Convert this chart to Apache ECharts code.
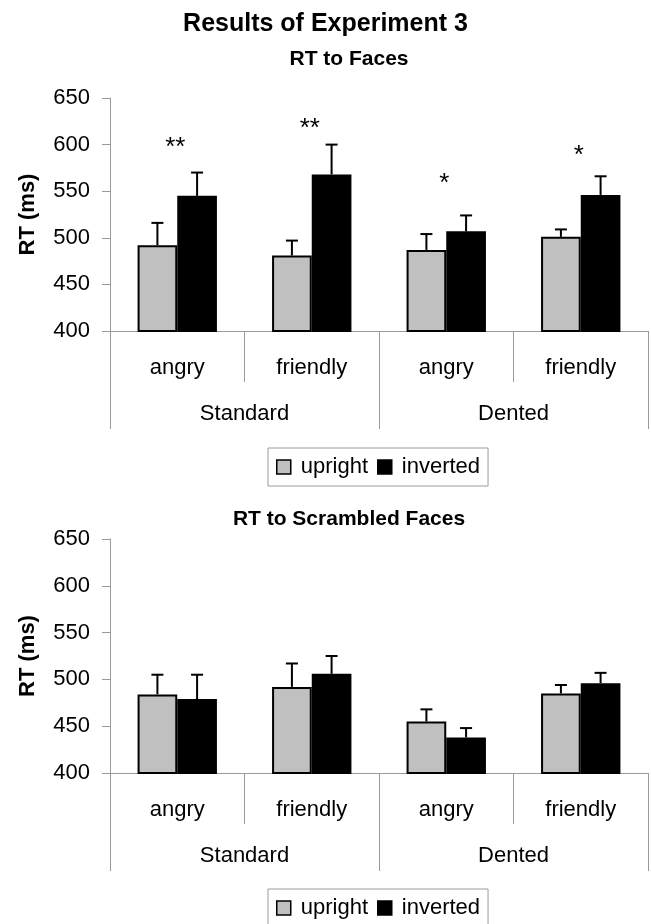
<!DOCTYPE html>
<html>
<head>
<meta charset="utf-8">
<script src="https://cdn.jsdelivr.net/npm/echarts@6/dist/echarts.min.js"></script>
<style>html,body{margin:0;padding:0;background:#fff}#c{width:651px;height:924px}</style>
</head>
<body>
<div id="c"></div>
<script>
// ---- data ----
var subCategories = ['angry', 'friendly', 'angry', 'friendly'];
var groupCategories = ['Standard', 'Dented'];
var yTicks = [400, 450, 500, 550, 600, 650];

var facesUpright = [492, 481, 487, 501];
var facesUprightSE = [24, 16, 17, 8];
var facesInverted = [545, 568, 507, 546];
var facesInvertedSE = [25, 32, 17, 20];
var facesSig = ['**', '**', '*', '*'];
var facesSigAt = [603, 623, 564, 594];

var scrUpright = [484, 492, 455, 485];
var scrUprightSE = [21, 25, 13, 9];
var scrInverted = [479, 506, 438, 496];
var scrInvertedSE = [26, 19, 10, 11];

// ---- chart ----
var FONT = "'Liberation Sans', Arial, Helvetica, sans-serif";
var AXIS_GRAY = '#9a9a9a';
var GAP = 0.41;

function yAxis(gridIndex) {
  return {
    type: 'value', gridIndex: gridIndex,
    min: yTicks[0], max: yTicks[yTicks.length - 1], interval: yTicks[1] - yTicks[0],
    name: 'RT (ms)', nameLocation: 'middle', nameRotate: 90, nameGap: 71,
    nameTextStyle: { fontFamily: FONT, fontSize: 22, fontWeight: 'bold', color: '#000' },
    axisLine: { show: true, lineStyle: { color: AXIS_GRAY, width: 1 } },
    axisTick: { show: true, length: 8, lineStyle: { color: AXIS_GRAY } },
    axisLabel: { margin: 20, fontFamily: FONT, fontSize: 22, color: '#000' },
    splitLine: { show: false }
  };
}
function subAxis(gridIndex) {
  return {
    type: 'category', gridIndex: gridIndex, position: 'bottom', data: subCategories,
    axisLine: { show: true, lineStyle: { color: AXIS_GRAY, width: 1 } },
    axisTick: { show: true, length: 51, interval: 0, lineStyle: { color: AXIS_GRAY } },
    axisLabel: { interval: 0, margin: 26, fontFamily: FONT, fontSize: 22, color: '#000' }
  };
}
function groupAxis(gridIndex) {
  return {
    type: 'category', gridIndex: gridIndex, position: 'bottom', data: groupCategories,
    axisLine: { show: false },
    axisTick: { show: true, length: 98, interval: 0, lineStyle: { color: AXIS_GRAY } },
    axisLabel: { interval: 0, margin: 72, fontFamily: FONT, fontSize: 22, color: '#000' }
  };
}
function bar(name, values, xi, yi, fill) {
  return {
    type: 'bar', name: name, xAxisIndex: xi, yAxisIndex: yi, data: values,
    barGap: '0%', barCategoryGap: (GAP * 100) + '%', silent: true,
    itemStyle: { color: fill, borderColor: '#000', borderWidth: 2 },
    emphasis: { disabled: true }, z: 2
  };
}
function errSeries(values, se, side, xi, yi) {
  var data = values.map(function (v, i) { return [i, v, v + se[i]]; });
  return {
    type: 'custom', xAxisIndex: xi, yAxisIndex: yi, data: data, silent: true, z: 3,
    renderItem: function (params, api) {
      var base = api.coord([api.value(0), api.value(1)]);
      var top = api.coord([api.value(0), api.value(2)]);
      var bw = api.size([1, 0])[0] * (1 - GAP) / 2;
      var x = base[0] + side * bw / 2;
      var cap = 6;
      return {
        type: 'group', children: [
          { type: 'line', shape: { x1: x, y1: base[1], x2: x, y2: top[1] }, style: { stroke: '#000', lineWidth: 2 } },
          { type: 'line', shape: { x1: x - cap, y1: top[1], x2: x + cap, y2: top[1] }, style: { stroke: '#000', lineWidth: 2 } }
        ]
      };
    }
  };
}
function sigSeries(labels, at, xi, yi) {
  var data = at.map(function (v, i) { return [i, v]; });
  return {
    type: 'custom', xAxisIndex: xi, yAxisIndex: yi, data: data, silent: true, z: 4,
    renderItem: function (params, api) {
      var p = api.coord([api.value(0), api.value(1)]);
      return {
        type: 'text',
        style: { x: p[0] - 2, y: p[1] + 6, text: labels[params.dataIndex], align: 'center', verticalAlign: 'middle',
                 fontFamily: FONT, fontSize: 26, fill: '#000' }
      };
    }
  };
}
function legend(top) {
  return {
    left: 268, top: top, orient: 'horizontal',
    data: [
      { name: 'upright', icon: 'rect', itemStyle: { color: '#c0c0c0', borderColor: '#000', borderWidth: 1.5 } },
      { name: 'inverted', icon: 'rect', itemStyle: { color: '#000', borderColor: '#000', borderWidth: 1.5 } }
    ],
    itemWidth: 14, itemHeight: 14, itemGap: 9,
    padding: [8, 8, 8, 8],
    borderColor: AXIS_GRAY, borderWidth: 1,
    selectedMode: false,
    textStyle: { fontFamily: FONT, fontSize: 22, color: '#000', padding: [0, 0, 0, 5] }
  };
}

var chart = echarts.init(document.getElementById('c'), null, { renderer: 'canvas' });
chart.setOption({
  backgroundColor: '#fff',
  animation: false,
  title: [
    { text: 'Results of Experiment 3', left: 325.5, top: 11.5, textAlign: 'center', padding: 0,
      textStyle: { fontFamily: FONT, fontSize: 25, fontWeight: 'bold', color: '#000' } },
    { text: 'RT to Faces', left: 349, top: 49, textAlign: 'center', padding: 0,
      textStyle: { fontFamily: FONT, fontSize: 21, fontWeight: 'bold', color: '#000' } },
    { text: 'RT to Scrambled Faces', left: 349, top: 508.5, textAlign: 'center', padding: 0,
      textStyle: { fontFamily: FONT, fontSize: 21, fontWeight: 'bold', color: '#000' } }
  ],
  legend: [legend(448), legend(889)],
  grid: [
    { left: 110, top: 98, width: 538, height: 233 },
    { left: 110, top: 539, width: 538, height: 234 }
  ],
  xAxis: [subAxis(0), groupAxis(0), subAxis(1), groupAxis(1)],
  yAxis: [yAxis(0), yAxis(1)],
  series: [
    bar('upright', facesUpright, 0, 0, '#c0c0c0'),
    bar('inverted', facesInverted, 0, 0, '#000'),
    errSeries(facesUpright, facesUprightSE, -1, 0, 0),
    errSeries(facesInverted, facesInvertedSE, 1, 0, 0),
    sigSeries(facesSig, facesSigAt, 0, 0),
    bar('upright', scrUpright, 2, 1, '#c0c0c0'),
    bar('inverted', scrInverted, 2, 1, '#000'),
    errSeries(scrUpright, scrUprightSE, -1, 2, 1),
    errSeries(scrInverted, scrInvertedSE, 1, 2, 1)
  ]
});
</script>
</body>
</html>
